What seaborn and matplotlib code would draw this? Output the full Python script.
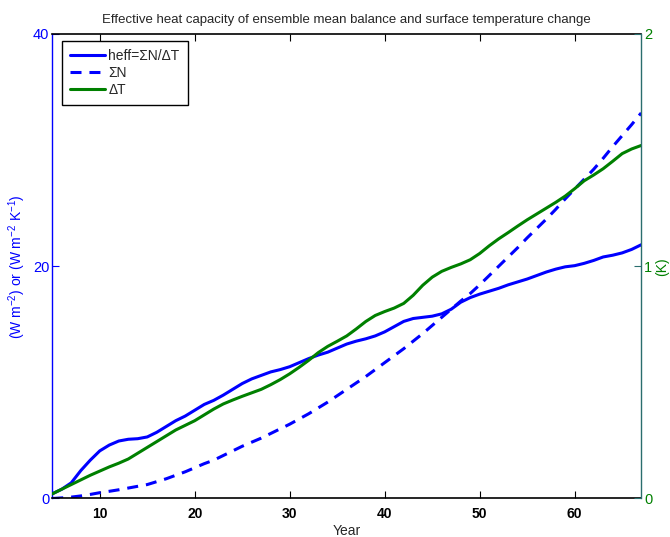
import matplotlib
matplotlib.use('Agg')
import matplotlib.pyplot as plt
import seaborn as sns
import pandas as pd

years = list(range(5, 68))
heff = [0.4, 0.8, 1.35, 2.4, 3.3, 4.1, 4.6, 4.95, 5.1, 5.15,
        5.3, 5.7, 6.2, 6.7, 7.1, 7.6, 8.1, 8.45, 8.9, 9.4,
        9.9, 10.3, 10.6, 10.9, 11.1, 11.35, 11.7, 12.05, 12.35, 12.6,
        12.95, 13.3, 13.55, 13.75, 14.0, 14.35, 14.8, 15.25, 15.5, 15.6,
        15.7, 15.9, 16.3, 16.9, 17.3, 17.6, 17.85, 18.1, 18.4, 18.65,
        18.9, 19.2, 19.5, 19.75, 19.95, 20.05, 20.25, 20.5, 20.8, 20.95,
        21.15, 21.45, 21.85]
sum_n = [0.0, 0.05, 0.12, 0.22, 0.35, 0.5, 0.62, 0.75, 0.9, 1.05,
         1.2, 1.45, 1.7, 2.0, 2.3, 2.65, 3.0, 3.3, 3.7, 4.1,
         4.5, 4.85, 5.2, 5.6, 6.0, 6.4, 6.85, 7.3, 7.8, 8.3,
         8.85, 9.4, 9.95, 10.5, 11.1, 11.7, 12.3, 12.9, 13.55, 14.2,
         14.9, 15.6, 16.3, 17.0, 17.65, 18.4, 19.2, 20.0, 20.8, 21.6,
         22.45, 23.25, 24.05, 24.9, 25.8, 26.65, 27.5, 28.35, 29.3, 30.3,
         31.25, 32.2, 33.2]
delta_t = [0.02, 0.04, 0.06, 0.08, 0.10, 0.118, 0.136, 0.152, 0.17, 0.195,
           0.22, 0.245, 0.27, 0.295, 0.315, 0.335, 0.36, 0.385, 0.407, 0.424,
           0.44, 0.455, 0.47, 0.49, 0.512, 0.537, 0.565, 0.595, 0.628, 0.655,
           0.677, 0.70, 0.73, 0.762, 0.788, 0.805, 0.82, 0.84, 0.875, 0.918,
           0.953, 0.978, 0.995, 1.01, 1.028, 1.055, 1.088, 1.118, 1.145, 1.173,
           1.2, 1.225, 1.25, 1.275, 1.302, 1.334, 1.368, 1.393, 1.42, 1.452,
           1.485, 1.505, 1.52]

x_ticks = [10, 20, 30, 40, 50, 60]
left_ticks = [0, 20, 40]
right_ticks = [0, 1, 2]

df = pd.DataFrame({'year': years, 'heff': heff, 'sumN': sum_n, 'dT': delta_t})

sns.set_style('ticks')
plt.rcParams['font.family'] = ['Liberation Sans', 'DejaVu Sans']
plt.rcParams['mathtext.fontset'] = 'custom'
plt.rcParams['mathtext.rm'] = 'Liberation Sans'
plt.rcParams['mathtext.it'] = 'Liberation Sans:italic'
plt.rcParams['xtick.direction'] = 'in'
plt.rcParams['ytick.direction'] = 'in'

BLUE = '#0000ff'
GREEN = '#008000'
TEAL = '#2a6e6e'

fig = plt.figure(figsize=(6.7, 5.37), dpi=100)
ax = fig.add_axes([0.078, 0.0717, 0.879, 0.865])

sns.lineplot(data=df, x='year', y='heff', ax=ax, color=BLUE, lw=2.2,
             label='heff=ΣN/ΔT', legend=False)
sns.lineplot(data=df, x='year', y='sumN', ax=ax, color=BLUE, lw=2.2,
             linestyle='--', label='ΣN', legend=False)
ax.lines[-1].set_dashes([3.6, 2.6])

ax2 = ax.twinx()
sns.lineplot(data=df, x='year', y='dT', ax=ax2, color=GREEN, lw=2.2,
             label='ΔT', legend=False)

ax.set_xlim(5, 67)
ax.set_ylim(0, 40)
ax2.set_ylim(0, 2)
ax.set_xticks(x_ticks)
ax.set_yticks(left_ticks)
ax2.set_yticks(right_ticks)

ax.tick_params(axis='x', which='both', top=True, bottom=True, length=5,
               width=0.8, colors='black', labelsize=10, pad=6)
for lbl in ax.get_xticklabels():
    lbl.set_fontweight('bold')
ax.tick_params(axis='y', length=5, width=0.8, colors=BLUE, labelsize=10.5, pad=2)
ax2.tick_params(axis='y', length=5, width=0.8, colors=TEAL,
                labelcolor=GREEN, labelsize=10.5, pad=2)

for s in ['top', 'bottom']:
    ax.spines[s].set_color('black')
    ax.spines[s].set_linewidth(1.2)
    ax2.spines[s].set_visible(False)
ax.spines['left'].set_color(BLUE)
ax.spines['left'].set_linewidth(1.0)
ax2.spines['left'].set_visible(False)
ax.spines['right'].set_visible(False)
ax2.spines['right'].set_color(TEAL)
ax2.spines['right'].set_linewidth(1.0)

ax.set_xlabel('Year', fontsize=10, labelpad=2)
ax.set_ylabel('(W m$^{-2}$) or (W m$^{-2}$ K$^{-1}$)', color=BLUE,
              fontsize=10, labelpad=4)
ax2.set_ylabel('(K)', color=GREEN, fontsize=10, rotation=90, labelpad=2)
ax.set_title('Effective heat capacity of ensemble mean balance and surface temperature change',
             fontsize=9.5, pad=8)

h1, l1 = ax.get_legend_handles_labels()
h2, l2 = ax2.get_legend_handles_labels()
leg = ax2.legend(h1 + h2, l1 + l2, loc='upper left', fontsize=10,
                 frameon=True, fancybox=False, edgecolor='black',
                 framealpha=1, handlelength=2.5, borderpad=0.6,
                 labelspacing=0.2, handletextpad=0.25, borderaxespad=0,
                 bbox_to_anchor=(0.016, 0.985))
leg.get_frame().set_linewidth(1.0)

fig.savefig('out.png', dpi=100)
